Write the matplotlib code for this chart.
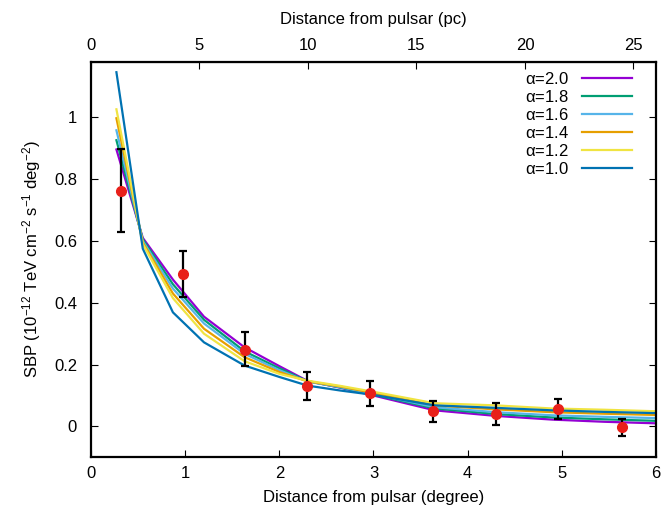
import matplotlib
matplotlib.use('Agg')
import matplotlib.pyplot as plt

plt.rcParams['font.family'] = ['Liberation Sans', 'DejaVu Sans']
plt.rcParams['mathtext.default'] = 'regular'
plt.rcParams['font.size'] = 12

# model curves (x in degree)
x_model = [0.27, 0.55, 0.87, 1.2, 1.63, 2.0, 2.3, 2.65, 3.0, 3.65, 4.3, 4.9, 5.45, 6.0]
sbp_a20 = [0.896, 0.610, 0.475, 0.355, 0.256, 0.195, 0.147, 0.125, 0.100, 0.052, 0.034, 0.022, 0.015, 0.010]
sbp_a18 = [0.926, 0.605, 0.460, 0.345, 0.243, 0.188, 0.146, 0.126, 0.103, 0.058, 0.040, 0.029, 0.023, 0.018]
sbp_a16 = [0.958, 0.600, 0.446, 0.333, 0.235, 0.182, 0.145, 0.127, 0.105, 0.062, 0.046, 0.036, 0.031, 0.027]
sbp_a14 = [0.997, 0.595, 0.430, 0.316, 0.224, 0.176, 0.146, 0.129, 0.108, 0.068, 0.055, 0.046, 0.041, 0.037]
sbp_a12 = [1.026, 0.590, 0.415, 0.300, 0.211, 0.170, 0.148, 0.131, 0.112, 0.075, 0.068, 0.058, 0.054, 0.049]
sbp_a10 = [1.146, 0.575, 0.369, 0.272, 0.197, 0.160, 0.132, 0.116, 0.102, 0.068, 0.060, 0.052, 0.047, 0.043]

# measured points
x_obs = [0.32, 0.98, 1.64, 2.29, 2.96, 3.63, 4.30, 4.96, 5.64]
y_obs = [0.762, 0.494, 0.248, 0.130, 0.107, 0.049, 0.039, 0.056, -0.003]
y_hi = [0.898, 0.567, 0.305, 0.175, 0.148, 0.083, 0.075, 0.090, 0.025]
y_lo = [0.628, 0.420, 0.194, 0.086, 0.066, 0.013, 0.003, 0.023, -0.032]

pc_per_deg = 4.34

curves = [
    (sbp_a20, r'$\alpha$=2.0', '#9400d3'),
    (sbp_a18, r'$\alpha$=1.8', '#009e73'),
    (sbp_a16, r'$\alpha$=1.6', '#56b4e9'),
    (sbp_a14, r'$\alpha$=1.4', '#e69f00'),
    (sbp_a12, r'$\alpha$=1.2', '#f0e442'),
    (sbp_a10, r'$\alpha$=1.0', '#0072b2'),
]

fig = plt.figure(figsize=(6.72, 5.12), dpi=100)
ax = fig.add_axes([0.1354, 0.1068, 0.8408, 0.7727])

for ys, lab, col in curves:
    ax.plot(x_model, ys, color=col, lw=1.6, label=lab)

err_low = [y - l for y, l in zip(y_obs, y_lo)]
err_up = [h - y for y, h in zip(y_obs, y_hi)]
ax.errorbar(x_obs, y_obs, yerr=[err_low, err_up], fmt='none', ecolor='black',
            elinewidth=1.6, capsize=3, capthick=1.6, zorder=5)
ax.plot(x_obs, y_obs, 'o', color='#e8201a', ms=7, zorder=6)

ax.set_xlim(0, 6)
ax.set_ylim(-0.1, 1.18)
ax.set_xticks(range(0, 7))
ax.set_yticks([0, 0.2, 0.4, 0.6, 0.8, 1])
ax.set_yticklabels(['0', '0.2', '0.4', '0.6', '0.8', '1'])
ax.tick_params(axis='y', direction='in', length=5, width=0.8, right=True, pad=10)
ax.tick_params(axis='x', direction='in', length=5, width=0.8, top=False, pad=6)
for s in ax.spines.values():
    s.set_linewidth(1.6)

ax.set_xlabel('Distance from pulsar (degree)', labelpad=7)
ax.set_ylabel(r'SBP (10$^{-12}$ TeV cm$^{-2}$ s$^{-1}$ deg$^{-2}$)', labelpad=8)

top = ax.secondary_xaxis('top', functions=(lambda d: d * pc_per_deg, lambda p: p / pc_per_deg))
top.set_xticks([0, 5, 10, 15, 20, 25])
top.tick_params(direction='in', length=5, width=0.8, pad=6)
top.set_xlabel('Distance from pulsar (pc)', labelpad=10)

ax.legend(loc='upper right', bbox_to_anchor=(0.972, 0.998), frameon=False,
          markerfirst=False, handlelength=3.0, labelspacing=0.12, borderpad=0,
          handletextpad=0.8, fontsize=12)

fig.savefig('out.png', dpi=100)
